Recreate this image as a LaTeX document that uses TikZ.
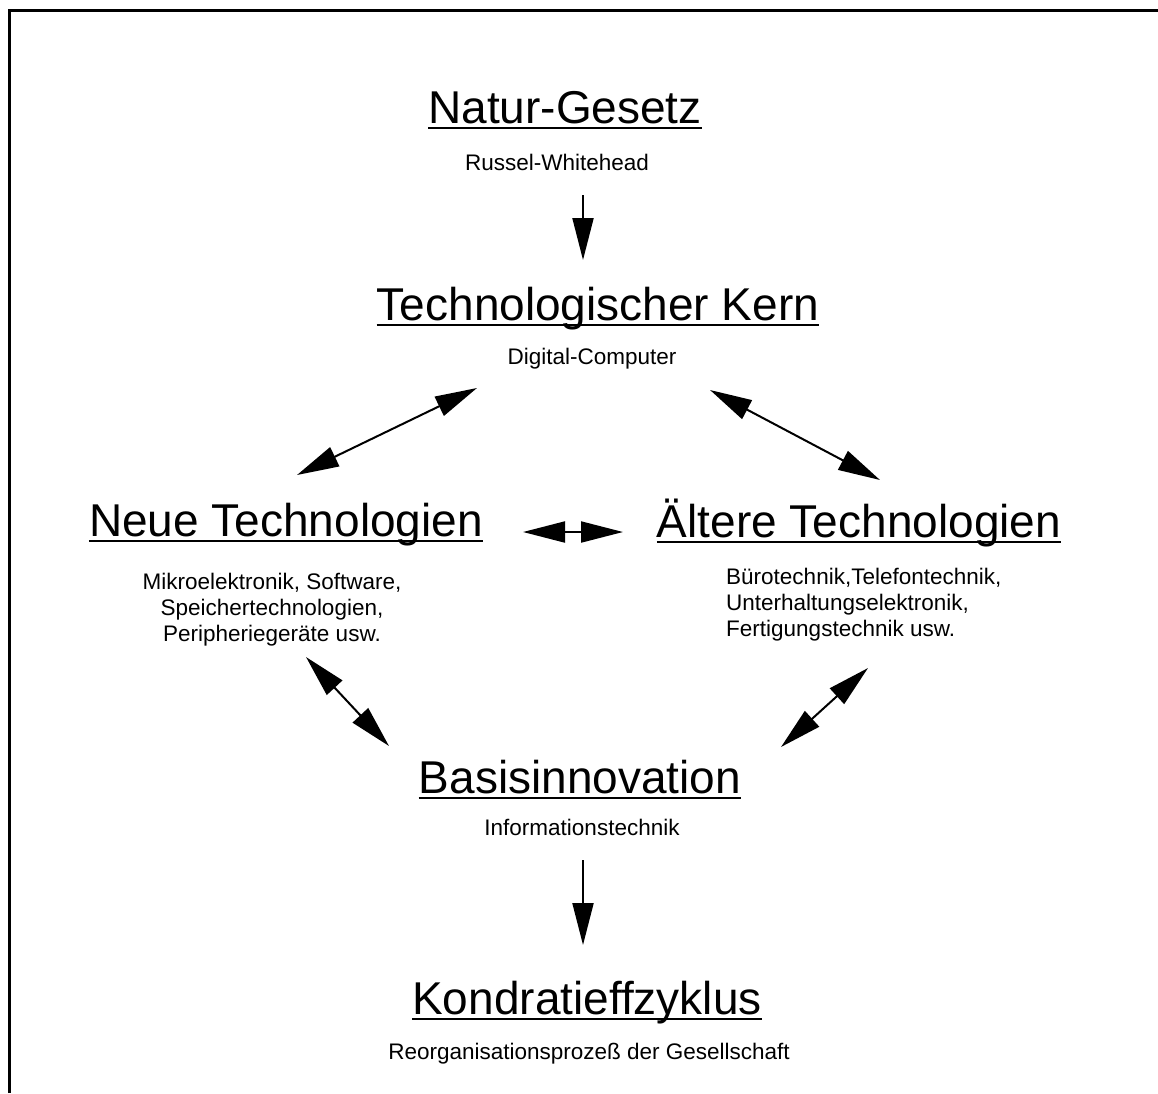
\documentclass[tikz,border=0pt]{standalone}
\usepackage{fontspec}
\setmainfont{Liberation Sans}
\usetikzlibrary{arrows.meta}
\begin{document}
\begin{tikzpicture}[x=1pt,y=-1pt,
  head/.style={inner sep=0pt, anchor=base, font=\fontsize{46}{55}\selectfont},
  sub/.style={inner sep=0pt, anchor=base, font=\fontsize{22.5}{26}\selectfont, align=center},
  uline/.style={line width=2.5pt},
  one/.style={line width=2pt, -{Triangle[length=42pt,width=21pt]}},
  two/.style={line width=2pt, {Triangle[length=42pt,width=21pt]}-{Triangle[length=42pt,width=21pt]}}
]
\useasboundingbox (0,0) rectangle (1158,1093);
% frame (left and top edges)
\draw[line width=3pt] (9.5,1093) -- (9.5,10.5) -- (1158,10.5);

% headings
\node[head] (nat) at (565,123) {Natur-Gesetz};
\node[head] (kern) at (598,320) {Technologischer Kern};
\node[head] (neu) at (286,536) {Neue Technologien};
\node[head] (alt) at (859,537) {Ältere Technologien};
\node[head] (bas) at (580,793) {Basisinnovation};
\node[head] (kon) at (587,1014) {Kondratieffzyklus};

\foreach \n in {nat,kern,neu,alt,bas,kon}
  \draw[uline] ([yshift=-5pt]\n.base west) -- ([yshift=-5pt]\n.base east);

% sub texts
\node[sub] (rw) at (557,170) {Russel-Whitehead};
\node[sub] (dc) at (592,364) {Digital-Computer};
\node[sub, anchor=north] (neutxt) at (272,573) {Mikroelektronik, Software,\\Speichertechnologien,\\Peripheriegeräte usw.};
\node[sub, anchor=north west, align=left] (alttxt) at (726,568) {Bürotechnik,Telefontechnik,\\Unterhaltungselektronik,\\Fertigungstechnik usw.};
\node[sub] (it) at (582,835) {Informationstechnik};
\node[sub] (reo) at (589,1059) {Reorganisationsprozeß der Gesellschaft};

% connector end points
\coordinate (a1) at (583,195);   \coordinate (a2) at (583,260);
\coordinate (b1) at (297,475);   \coordinate (b2) at (477,388);
\coordinate (c1) at (710,390);   \coordinate (c2) at (880,480);
\coordinate (d1) at (523,532);   \coordinate (d2) at (623,532);
\coordinate (e1) at (306,657);   \coordinate (e2) at (389,746);
\coordinate (f1) at (868,668);   \coordinate (f2) at (781,747);
\coordinate (g1) at (583,860);   \coordinate (g2) at (583,945);

\draw[one] (a1) -- (a2);
\draw[two] (b1) -- (b2);
\draw[two] (c1) -- (c2);
\draw[two] (d1) -- (d2);
\draw[two] (e1) -- (e2);
\draw[two] (f1) -- (f2);
\draw[one] (g1) -- (g2);
\end{tikzpicture}
\end{document}
